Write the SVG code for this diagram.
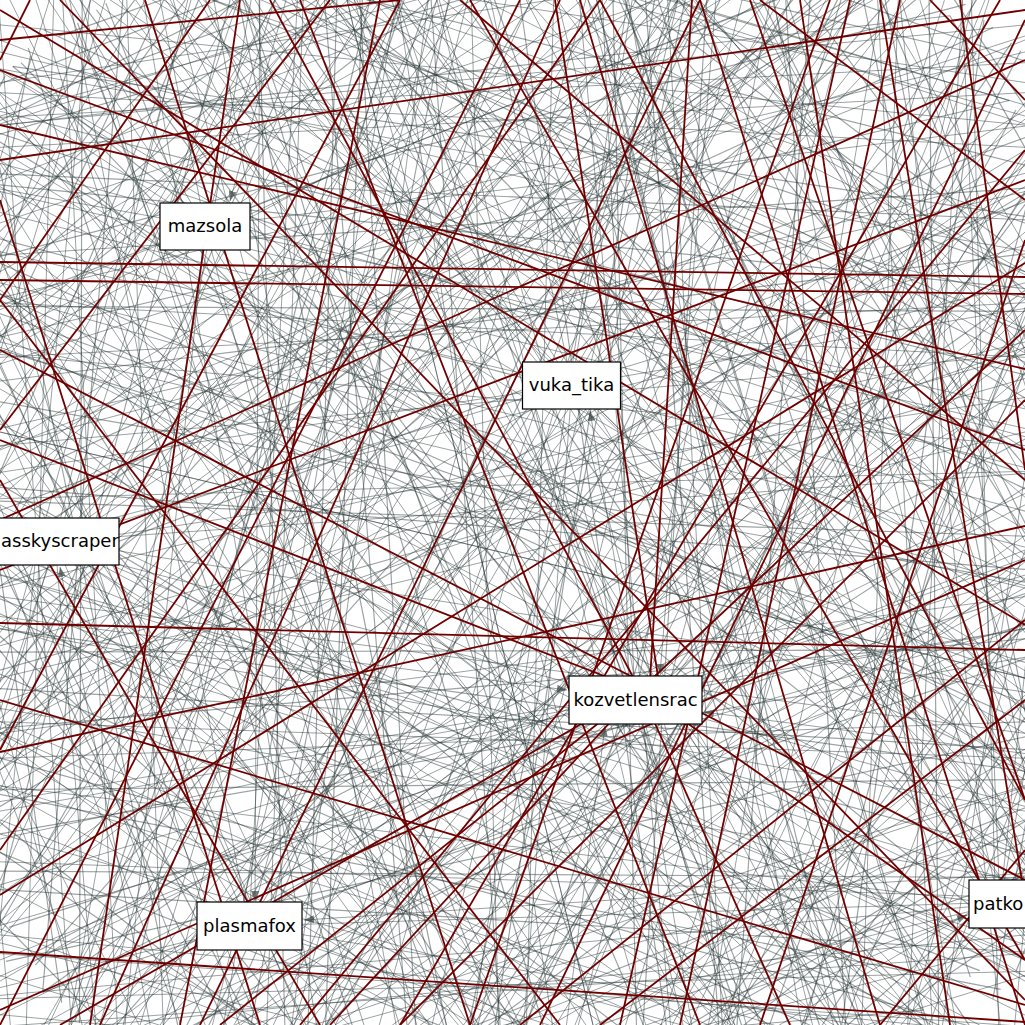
<svg xmlns="http://www.w3.org/2000/svg" xmlns:xlink="http://www.w3.org/1999/xlink" width="1025" height="1025" viewBox="0 0 1025 1025">
<style>
.gray{stroke:#253232;stroke-opacity:.45;stroke-width:1;fill:none}
.red{stroke:#700000;stroke-width:1.8;fill:none}
.box{fill:#fff;stroke:#000;stroke-width:1.2}
.lbl{font-family:"DejaVu Sans",Verdana,sans-serif;font-size:18px;fill:#000}
</style>
<defs>
<marker id="arr" markerUnits="userSpaceOnUse" markerWidth="10" markerHeight="8" refX="10" refY="4" orient="auto"><path d="M0,0 L10,4 L0,8 z" fill="#3a4444" fill-opacity=".7"/></marker>
</defs>
<rect width="1025" height="1025" fill="#fff"/>
<g id="connectors">
<g id="gbase" class="gray">
<line x1="-50" y1="40" x2="1075" y2="310"/><line x1="-50" y1="90" x2="620" y2="1075"/><line x1="-50" y1="150" x2="1075" y2="90"/><line x1="-50" y1="210" x2="880" y2="1075"/><line x1="-50" y1="330" x2="1075" y2="720"/><line x1="-50" y1="380" x2="400" y2="-50"/><line x1="-50" y1="440" x2="1075" y2="180"/><line x1="-50" y1="500" x2="760" y2="1075"/><line x1="-50" y1="560" x2="1075" y2="900"/><line x1="-50" y1="640" x2="300" y2="-50"/>
<line x1="-50" y1="690" x2="1075" y2="420"/><line x1="-50" y1="760" x2="520" y2="1075"/><line x1="-50" y1="820" x2="1075" y2="620"/><line x1="-50" y1="870" x2="900" y2="-50"/><line x1="-50" y1="930" x2="1075" y2="1040"/><line x1="-50" y1="990" x2="640" y2="-50"/><line x1="20" y1="-50" x2="380" y2="1075"/><line x1="70" y1="-50" x2="1075" y2="560"/><line x1="120" y1="-50" x2="-50" y2="520"/><line x1="170" y1="-50" x2="820" y2="1075"/>
<line x1="220" y1="-50" x2="1075" y2="240"/><line x1="260" y1="-50" x2="60" y2="1075"/><line x1="310" y1="-50" x2="1075" y2="980"/><line x1="350" y1="-50" x2="-50" y2="880"/><line x1="390" y1="-50" x2="560" y2="1075"/><line x1="430" y1="-50" x2="1075" y2="130"/><line x1="480" y1="-50" x2="200" y2="1075"/><line x1="520" y1="-50" x2="1075" y2="700"/><line x1="570" y1="-50" x2="-50" y2="300"/><line x1="610" y1="-50" x2="940" y2="1075"/>
<line x1="650" y1="-50" x2="1075" y2="420"/><line x1="690" y1="-50" x2="420" y2="1075"/><line x1="730" y1="-50" x2="-50" y2="1000"/><line x1="770" y1="-50" x2="1075" y2="860"/><line x1="810" y1="-50" x2="130" y2="1075"/><line x1="850" y1="-50" x2="1075" y2="330"/><line x1="890" y1="-50" x2="700" y2="1075"/><line x1="930" y1="-50" x2="-50" y2="660"/><line x1="970" y1="-50" x2="1000" y2="1075"/><line x1="1010" y1="-50" x2="260" y2="1075"/>
<line x1="1075" y1="20" x2="-50" y2="130"/><line x1="1075" y1="110" x2="480" y2="1075"/><line x1="1075" y1="160" x2="-50" y2="760"/><line x1="1075" y1="260" x2="30" y2="1075"/><line x1="1075" y1="350" x2="-50" y2="450"/><line x1="1075" y1="470" x2="660" y2="-50"/><line x1="1075" y1="530" x2="-50" y2="980"/><line x1="1075" y1="600" x2="230" y2="-50"/><line x1="1075" y1="660" x2="860" y2="1075"/><line x1="1075" y1="740" x2="-50" y2="590"/>
<line x1="1075" y1="800" x2="380" y2="1075"/><line x1="1075" y1="880" x2="560" y2="-50"/><line x1="1075" y1="950" x2="-50" y2="1030"/><line x1="1075" y1="1010" x2="-50" y2="360"/><line x1="40" y1="1075" x2="700" y2="-50"/><line x1="90" y1="1075" x2="1075" y2="770"/><line x1="150" y1="1075" x2="450" y2="-50"/><line x1="200" y1="1075" x2="-50" y2="420"/><line x1="250" y1="1075" x2="1075" y2="40"/><line x1="310" y1="1075" x2="880" y2="-50"/>
<line x1="360" y1="1075" x2="-50" y2="230"/><line x1="410" y1="1075" x2="1075" y2="520"/><line x1="460" y1="1075" x2="160" y2="-50"/><line x1="510" y1="1075" x2="1075" y2="930"/><line x1="560" y1="1075" x2="-50" y2="720"/><line x1="610" y1="1075" x2="960" y2="-50"/><line x1="660" y1="1075" x2="340" y2="-50"/><line x1="710" y1="1075" x2="1075" y2="250"/><line x1="760" y1="1075" x2="-50" y2="100"/><line x1="810" y1="1075" x2="620" y2="-50"/>
<line x1="860" y1="1075" x2="-50" y2="820"/><line x1="910" y1="1075" x2="1075" y2="640"/><line x1="960" y1="1075" x2="80" y2="-50"/><line x1="1010" y1="1075" x2="1075" y2="380"/><line x1="-50" y1="270" x2="1075" y2="560"/><line x1="-50" y1="600" x2="1075" y2="330"/><line x1="-50" y1="20" x2="1075" y2="470"/><line x1="-50" y1="470" x2="1075" y2="1000"/><line x1="130" y1="-50" x2="930" y2="1075"/><line x1="600" y1="-50" x2="280" y2="1075"/>
<line x1="330" y1="-50" x2="1075" y2="820"/><line x1="800" y1="-50" x2="-50" y2="480"/><line x1="-50" y1="720" x2="1075" y2="760"/><line x1="-50" y1="360" x2="1075" y2="300"/><line x1="470" y1="-50" x2="500" y2="1075"/><line x1="900" y1="-50" x2="860" y2="1075"/><line x1="60" y1="-50" x2="120" y2="1075"/><line x1="-50" y1="540" x2="640" y2="-50"/><line x1="1075" y1="560" x2="350" y2="1075"/><line x1="-50" y1="800" x2="1075" y2="120"/>
<line x1="190" y1="-50" x2="1075" y2="1000"/><line x1="740" y1="-50" x2="40" y2="1075"/><line x1="-50" y1="180" x2="500" y2="1075"/><line x1="1075" y1="200" x2="700" y2="1075"/><line x1="-50" y1="1040" x2="1075" y2="480"/><line x1="280" y1="-50" x2="1075" y2="380"/><line x1="1075" y1="90" x2="140" y2="-50"/><line x1="-50" y1="960" x2="320" y2="1075"/><line x1="540" y1="-50" x2="-50" y2="140"/><line x1="1075" y1="990" x2="600" y2="-50"/>
</g>
<use xlink:href="#gbase" href="#gbase" transform="rotate(90 512.5 512.5)"/>
<use xlink:href="#gbase" href="#gbase" transform="translate(1025 0) scale(-1 1)"/>
<use xlink:href="#gbase" href="#gbase" transform="rotate(-35 512.5 512.5) scale(1.15) translate(-70 -70)"/>
<use xlink:href="#gbase" href="#gbase" transform="rotate(130 512.5 512.5) scale(1.2) translate(-90 -90)"/>
<g id="hubs" class="gray">
<path d="M205 226L-50 60M205 226L-50 180M205 226L-50 330M205 226L40 -50M205 226L150 -50M205 226L290 -50M205 226L420 -50M205 226L620 -50M205 226L1075 120M205 226L1075 420M205 226L800 1075M205 226L430 1075M205 226L120 1075M205 226L-50 620M205 226L900 -50"/>
<path d="M572 385L-50 240M572 385L300 -50M572 385L480 -50M572 385L640 -50M572 385L820 -50M572 385L1075 80M572 385L1075 300M572 385L1075 600M572 385L1075 880M572 385L760 1075M572 385L520 1075M572 385L250 1075M572 385L-50 760M572 385L-50 480M572 385L980 -50"/>
<path d="M55 541L200 -50M55 541L400 -50M55 541L650 -50M55 541L1075 230M55 541L1075 470M55 541L1075 700M55 541L1075 980M55 541L800 1075M55 541L500 1075M55 541L280 1075M55 541L100 1075M55 541L-50 900M55 541L-50 300M55 541L900 -50M55 541L1075 1075"/>
<path d="M635 700L-50 200M635 700L-50 520M635 700L-50 850M635 700L100 -50M635 700L380 -50M635 700L600 -50M635 700L780 -50M635 700L1000 -50M635 700L1075 260M635 700L1075 540M635 700L1075 820M635 700L1000 1075M635 700L750 1075M635 700L450 1075M635 700L180 1075M635 700L-50 1075"/>
<path d="M249 926L-50 700M249 926L-50 1000M249 926L-50 450M249 926L60 -50M249 926L300 -50M249 926L520 -50M249 926L820 -50M249 926L1075 300M249 926L1075 620M249 926L1075 900M249 926L700 1075M249 926L400 1075M249 926L120 1075M249 926L1075 1060"/>
<path d="M1000 904L-50 400M1000 904L-50 780M1000 904L200 -50M1000 904L500 -50M1000 904L760 -50M1000 904L960 -50M1000 904L1075 500M1000 904L1075 760M1000 904L1075 1000M1000 904L860 1075M1000 904L500 1075M1000 904L-50 1000M1000 904L1075 200M1000 904L300 1075"/>
</g>
<g id="arrows" class="gray">
<line x1="1075" y1="870" x2="304" y2="920" marker-end="url(#arr)"/>
<line x1="260" y1="-50" x2="255" y2="901" marker-end="url(#arr)"/>
<line x1="560" y1="1075" x2="605" y2="726" marker-end="url(#arr)"/>
<line x1="1075" y1="760" x2="704" y2="712" marker-end="url(#arr)"/>
<line x1="720" y1="-50" x2="660" y2="674" marker-end="url(#arr)"/>
<line x1="300" y1="-50" x2="230" y2="201" marker-end="url(#arr)"/>
<line x1="160" y1="1075" x2="60" y2="567" marker-end="url(#arr)"/>
<line x1="700" y1="1075" x2="590" y2="411" marker-end="url(#arr)"/>
<line x1="600" y1="1075" x2="967" y2="915" marker-end="url(#arr)"/>
<line x1="-50" y1="610" x2="567" y2="690" marker-end="url(#arr)"/>
</g>
<g id="red" class="red">
<line x1="0" y1="262" x2="1025" y2="277"/>
<line x1="0" y1="280" x2="1025" y2="294"/>
<line x1="0" y1="623" x2="1025" y2="650"/>
<line x1="0" y1="752" x2="1025" y2="526"/>
<line x1="0" y1="952" x2="1025" y2="1022"/>
<line x1="0" y1="125" x2="1025" y2="369"/>
<line x1="0" y1="10" x2="1025" y2="625"/>
<line x1="0" y1="700" x2="1025" y2="1005"/>
<line x1="145" y1="0" x2="470" y2="1025"/>
<line x1="30" y1="0" x2="0" y2="60"/>
<line x1="240" y1="0" x2="90" y2="1025"/>
<line x1="330" y1="0" x2="0" y2="430"/>
<line x1="400" y1="0" x2="0" y2="750"/>
<line x1="460" y1="0" x2="1025" y2="480"/>
<line x1="555" y1="0" x2="660" y2="690"/>
<line x1="692" y1="0" x2="650" y2="680"/>
<line x1="760" y1="0" x2="1025" y2="200"/>
<line x1="850" y1="0" x2="620" y2="1025"/>
<line x1="930" y1="0" x2="1025" y2="100"/>
<line x1="1000" y1="0" x2="400" y2="1025"/>
<line x1="700" y1="0" x2="200" y2="1025"/>
<line x1="1025" y1="60" x2="0" y2="520"/>
<line x1="1025" y1="150" x2="300" y2="1025"/>
<line x1="1025" y1="330" x2="640" y2="690"/>
<line x1="1025" y1="700" x2="600" y2="1025"/>
<line x1="1025" y1="800" x2="750" y2="0"/>
<line x1="1025" y1="900" x2="880" y2="0"/>
<line x1="1025" y1="960" x2="470" y2="0"/>
<line x1="640" y1="690" x2="60" y2="1025"/>
<line x1="640" y1="690" x2="220" y2="1025"/>
<line x1="640" y1="690" x2="330" y2="1025"/>
<line x1="640" y1="690" x2="0" y2="440"/>
<line x1="640" y1="690" x2="1025" y2="960"/>
<line x1="640" y1="690" x2="790" y2="1025"/>
<line x1="640" y1="690" x2="270" y2="0"/>
<line x1="0" y1="300" x2="560" y2="1025"/>
<line x1="0" y1="480" x2="320" y2="1025"/>
<line x1="0" y1="850" x2="600" y2="0"/>
<line x1="100" y1="1025" x2="560" y2="0"/>
<line x1="180" y1="1025" x2="380" y2="0"/>
<line x1="400" y1="1025" x2="1025" y2="400"/>
<line x1="520" y1="1025" x2="1025" y2="620"/>
<line x1="680" y1="1025" x2="900" y2="0"/>
<line x1="950" y1="1025" x2="800" y2="0"/>
<line x1="880" y1="1025" x2="1025" y2="850"/>
<line x1="0" y1="570" x2="1025" y2="180"/>
<line x1="0" y1="200" x2="260" y2="1025"/>
<line x1="300" y1="0" x2="700" y2="1025"/>
<line x1="600" y1="0" x2="1025" y2="800"/>
<line x1="0" y1="895" x2="1025" y2="263"/>
<line x1="60" y1="0" x2="1025" y2="1000"/>
<line x1="0" y1="40" x2="400" y2="0"/>
<line x1="1025" y1="560" x2="0" y2="1010"/>
<line x1="210" y1="0" x2="0" y2="300"/>
<line x1="830" y1="0" x2="470" y2="1025"/>
<line x1="1025" y1="20" x2="540" y2="1025"/>
<line x1="1025" y1="240" x2="760" y2="1025"/>
<line x1="0" y1="160" x2="1025" y2="10"/>
<line x1="960" y1="0" x2="1025" y2="470"/>
<line x1="0" y1="1025" x2="520" y2="0"/>
<line x1="1025" y1="450" x2="0" y2="70"/>
<line x1="880" y1="1025" x2="580" y2="0"/>
<line x1="0" y1="350" x2="1025" y2="880"/>
<line x1="1025" y1="1025" x2="700" y2="0"/>
</g>
</g>
<g id="node-mazsola"><rect class="box" x="160" y="203" width="90" height="47"/><text class="lbl" x="205" y="232" text-anchor="middle">mazsola</text></g>
<g id="node-vuka_tika"><rect class="box" x="522.5" y="362" width="98" height="47"/><text class="lbl" x="571.5" y="391" text-anchor="middle">vuka_tika</text></g>
<g id="node-asskyscraper"><rect class="box" x="-20" y="518" width="139" height="47"/><text class="lbl" x="1" y="547">asskyscraper</text></g>
<g id="node-kozvetlensrac"><rect class="box" x="569" y="676" width="133" height="48"/><text class="lbl" x="635.5" y="706" text-anchor="middle">kozvetlensrac</text></g>
<g id="node-patko"><rect class="box" x="969" y="880" width="80" height="48"/><text class="lbl" x="973" y="910">patko</text></g>
<g id="node-plasmafox"><rect class="box" x="197" y="902" width="105" height="48"/><text class="lbl" x="249.5" y="932" text-anchor="middle">plasmafox</text></g>
</svg>
